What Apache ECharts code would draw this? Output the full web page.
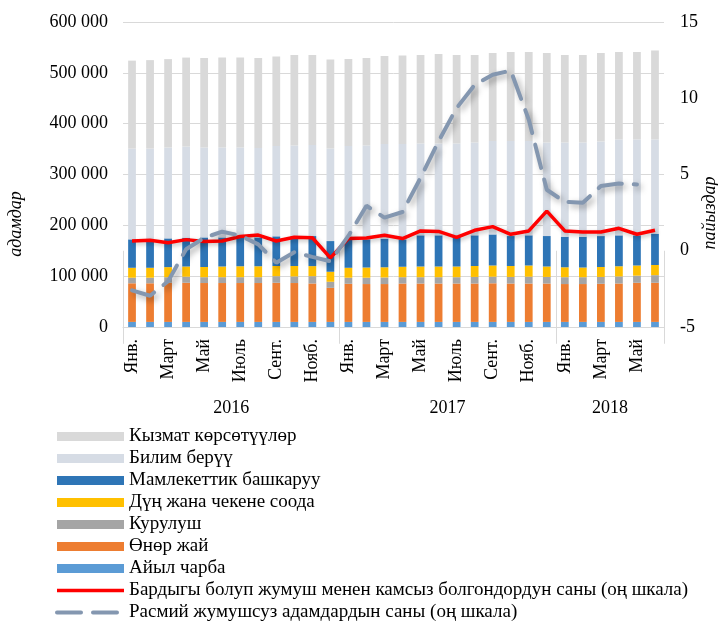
<!DOCTYPE html>
<html>
<head>
<meta charset="utf-8">
<script src="https://cdn.jsdelivr.net/npm/echarts@6/dist/echarts.min.js"></script>
<style>
  html, body { margin: 0; padding: 0; background: #fff; }
  #chart { width: 718px; height: 621px; }
</style>
</head>
<body>
<div id="chart"></div>
<script>
// категориялар
var monthNames = ['Янв.', 'Фев.', 'Март', 'Апр.', 'Май', 'Июнь', 'Июль', 'Авг.', 'Сент.', 'Окт.', 'Нояб.', 'Дек.'];
var years = ['2016', '2017', '2018'];
var monthsInYear = [12, 12, 6];

// тармактар боюнча (адамдар)
var agriculture = [10000, 10000, 10000, 10000, 10000, 10000, 10000, 10000, 10000, 10000, 10000, 10000, 10000, 10000, 10000, 10000, 10000, 10000, 10000, 10000, 10000, 10000, 10000, 10000, 10000, 10000, 10000, 10000, 10000, 10000];
var industry = [76000, 76000, 77000, 77000, 76500, 76500, 76500, 76500, 77000, 76500, 75600, 67000, 75000, 74500, 74500, 75500, 75500, 75500, 75500, 75500, 76000, 75500, 75500, 75500, 74500, 74500, 75000, 75600, 77000, 77000];
var construction = [11000, 11000, 11000, 12000, 11500, 11500, 11500, 11500, 13000, 13000, 14400, 12000, 12000, 12500, 13000, 12500, 12500, 12500, 12500, 13000, 13000, 13000, 13500, 13000, 13500, 13500, 13500, 13900, 14000, 15000];
var trade = [19500, 19500, 19800, 20000, 20000, 21000, 21500, 21500, 20000, 20500, 19800, 19700, 19500, 20000, 20000, 20500, 21000, 21000, 21000, 21500, 22000, 21500, 22000, 20500, 19500, 19000, 19500, 20000, 20000, 20000];
var admin = [55900, 55900, 56500, 56700, 58300, 57300, 56800, 56800, 58300, 58300, 59100, 60300, 55900, 55400, 56200, 53900, 61300, 61300, 58700, 60300, 61200, 58900, 59300, 59900, 60200, 60700, 60900, 60800, 59300, 61600];
var education = [178600, 178600, 178700, 179300, 176700, 176700, 176700, 175700, 177700, 178700, 179100, 182000, 183600, 184600, 186300, 187600, 180700, 180700, 183300, 182700, 183800, 187100, 185700, 184100, 185300, 185300, 186100, 188700, 188700, 185400];
var services = [173000, 174000, 174000, 175000, 176000, 177000, 177000, 177000, 176000, 178000, 177000, 175000, 171000, 172000, 173000, 174000, 174000, 176000, 174000, 172000, 173000, 175000, 175000, 176000, 172000, 172000, 174000, 172000, 172000, 175000];

// пайыздар (оң шкала)
var employedPct = [0.64, 0.69, 0.53, 0.73, 0.6, 0.64, 0.93, 1.03, 0.64, 0.88, 0.85, -0.47, 0.8, 0.84, 1.01, 0.8, 1.3, 1.27, 0.88, 1.34, 1.58, 1.08, 1.3, 2.6, 1.3, 1.23, 1.23, 1.47, 1.08, 1.34];
var unemployedPct = [-2.6, -2.95, -2.0, 0.1, 0.85, 1.25, 1.0, 0.42, -0.78, -0.1, -0.4, -0.69, 0.97, 2.95, 2.17, 2.54, 4.78, 7.18, 9.36, 10.88, 11.54, 11.82, 8.6, 4.0, 3.2, 3.15, 4.24, 4.41, 4.35, null];

var leftTicks = [0, 600000, 100000];   // min, max, interval
var rightTicks = [-5, 15, 5];

// эки деңгээлдүү ось үчүн
var months = [], yearCats = [], groupStart = [], groupMid = [];
var n = 0;
years.forEach(function (y, k) {
  groupStart.push(n);
  groupMid.push(n + Math.floor(monthsInYear[k] / 2));
  for (var m = 0; m < monthsInYear[k]; m++) {
    months.push(monthNames[m]);
    yearCats.push(y);
    n++;
  }
});

var font = 'Liberation Serif, Times New Roman, serif';
var chart = echarts.init(document.getElementById('chart'));

function barSeries(name, data, color) {
  return {
    name: name,
    type: 'bar',
    stack: 'total',
    data: data,
    barWidth: '43%',
    itemStyle: { color: color },
    emphasis: { disabled: true }
  };
}

var redName = 'Бардыгы болуп жумуш менен камсыз болгондордун саны (оң шкала)';
var dashName = 'Расмий жумушсуз адамдардын саны (оң шкала)';

var option = {
  animation: false,
  textStyle: { fontFamily: font },
  grid: { left: 123, right: 54, top: 22, bottom: 294, containLabel: false },
  legend: {
    orient: 'vertical',
    left: 55,
    top: 427,
    height: 200,
    padding: 0,
    itemWidth: 67,
    itemHeight: 9,
    itemGap: 3,
    textStyle: { fontFamily: font, fontSize: 19, color: '#000', lineHeight: 19 },
    data: [
      { name: 'Кызмат көрсөтүүлөр', icon: 'rect' },
      { name: 'Билим берүү', icon: 'rect' },
      { name: 'Мамлекеттик башкаруу', icon: 'rect' },
      { name: 'Дүң жана чекене соода', icon: 'rect' },
      { name: 'Курулуш', icon: 'rect' },
      { name: 'Өнөр жай', icon: 'rect' },
      { name: 'Айыл чарба', icon: 'rect' },
      { name: redName, itemStyle: { opacity: 0 }, lineStyle: { width: 3.5 } },
      { name: dashName, itemStyle: { opacity: 0 }, lineStyle: { width: 4 } }
    ]
  },
  xAxis: [
    {
      type: 'category',
      data: months,
      position: 'bottom',
      axisLine: { lineStyle: { color: '#d9d9d9' } },
      axisTick: { show: false },
      axisLabel: {
        interval: 1,
        rotate: 90,
        margin: 12,
        fontFamily: font,
        fontSize: 18,
        color: '#000'
      }
    },
    {
      type: 'category',
      data: yearCats,
      position: 'bottom',
      axisLine: { show: false },
      axisTick: {
        show: true,
        length: 93,
        interval: function (i) { return groupStart.indexOf(i) >= 0; },
        lineStyle: { color: '#d9d9d9' }
      },
      axisLabel: {
        interval: function (i) { return groupMid.indexOf(i) >= 0; },
        margin: 72,
        fontFamily: font,
        fontSize: 18,
        color: '#000',
        padding: [0, 18, 0, 0]
      }
    }
  ],
  yAxis: [
    {
      type: 'value',
      min: leftTicks[0],
      max: leftTicks[1],
      interval: leftTicks[2],
      axisLine: { show: false },
      axisTick: { show: false },
      splitLine: { lineStyle: { color: '#d9d9d9' } },
      axisLabel: {
        margin: 15,
        fontFamily: font,
        fontSize: 18,
        color: '#000',
        formatter: function (v) { return String(v).replace(/\B(?=(\d{3})+(?!\d))/g, ' '); }
      }
    },
    {
      type: 'value',
      min: rightTicks[0],
      max: rightTicks[1],
      interval: rightTicks[2],
      axisLine: { show: false },
      axisTick: { show: false },
      splitLine: { show: false },
      axisLabel: { margin: 16, fontFamily: font, fontSize: 18, color: '#000' }
    }
  ],
  graphic: [
    {
      type: 'text', x: 16, y: 224, rotation: Math.PI / 2,
      style: { text: 'адамдар', font: 'italic 18px ' + font, fill: '#000', textAlign: 'center', textVerticalAlign: 'middle' }
    },
    {
      type: 'text', x: 710, y: 213, rotation: Math.PI / 2,
      style: { text: 'пайыздар', font: 'italic 18px ' + font, fill: '#000', textAlign: 'center', textVerticalAlign: 'middle' }
    }
  ],
  series: [
    barSeries('Айыл чарба', agriculture, '#5b9bd5'),
    barSeries('Өнөр жай', industry, '#ed7d31'),
    barSeries('Курулуш', construction, '#a5a5a5'),
    barSeries('Дүң жана чекене соода', trade, '#ffc000'),
    barSeries('Мамлекеттик башкаруу', admin, '#2e75b6'),
    barSeries('Билим берүү', education, '#d6dce5'),
    barSeries('Кызмат көрсөтүүлөр', services, '#d9d9d9'),
    {
      name: redName,
      type: 'line',
      yAxisIndex: 1,
      data: employedPct,
      symbol: 'none',
      z: 5,
      lineStyle: {
        color: '#ff0000', width: 3.5,
        shadowColor: 'rgba(0,0,0,0.25)', shadowBlur: 4, shadowOffsetX: 2, shadowOffsetY: 2
      },
      itemStyle: { color: '#ff0000' },
      emphasis: { disabled: true }
    },
    {
      name: dashName,
      type: 'line',
      yAxisIndex: 1,
      data: unemployedPct,
      symbol: 'none',
      z: 6,
      lineStyle: {
        color: '#8497b0', width: 4, type: [24, 12], cap: 'round',
        shadowColor: 'rgba(0,0,0,0.35)', shadowBlur: 6, shadowOffsetX: 3, shadowOffsetY: 3
      },
      itemStyle: { color: '#8497b0' },
      emphasis: { disabled: true }
    }
  ]
};

chart.setOption(option);
</script>
</body>
</html>
